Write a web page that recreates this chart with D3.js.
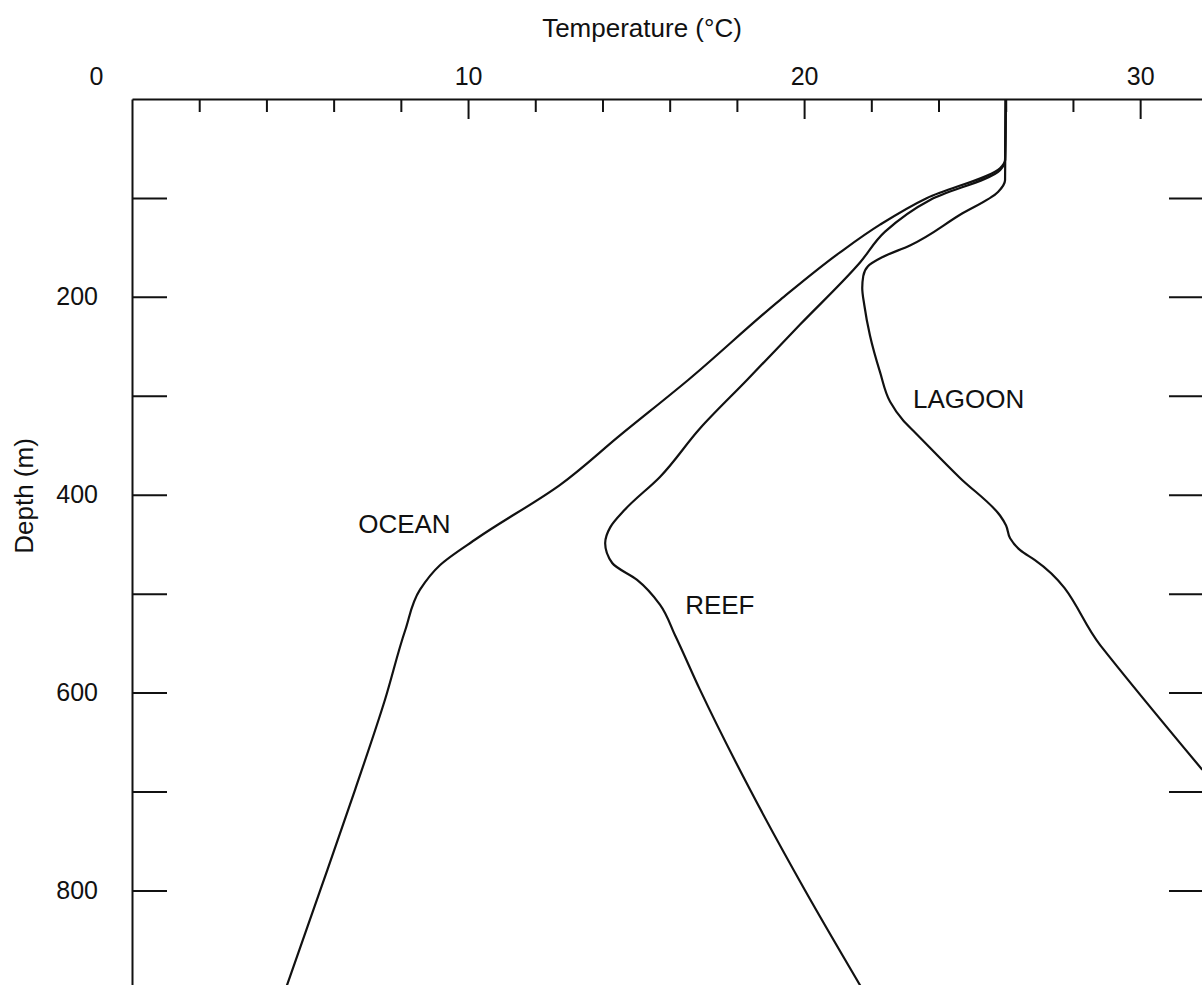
<!DOCTYPE html>
<html>
<head>
<meta charset="utf-8">
<script src="https://cdn.jsdelivr.net/npm/d3@7"></script>
<style>
  html, body { margin: 0; padding: 0; background: #fff; }
  svg { display: block; }
  text { font-family: "Liberation Sans", Arial, Helvetica, sans-serif; fill: #111; }
</style>
</head>
<body>
<svg id="chart" width="1202" height="985"></svg>
<script>
// Temperature profiles (°C) against depth (m)
const oceanDepth = [0, 62, 70, 100, 127, 155, 203, 284, 340, 390, 444, 471, 496, 537, 607, 698, 800, 896];
const oceanTemp  = [26.0, 25.98, 25.83, 23.66, 22.26, 21.07, 19.29, 16.55, 14.52, 12.74, 10.27, 9.17, 8.57, 8.13, 7.53, 6.64, 5.6, 4.61];

const reefDepth = [0, 62, 72, 102, 134, 165, 228, 284, 333, 382, 415, 433, 449, 469, 486, 511, 542, 597, 698, 800, 896];
const reefTemp  = [26.0, 25.98, 25.83, 23.75, 22.41, 21.67, 19.88, 18.3, 16.9, 15.71, 14.67, 14.23, 14.08, 14.29, 15.03, 15.71, 16.16, 16.9, 18.39, 20.03, 21.67];

const lagoonDepth = [0, 82, 94, 117, 148, 160, 169, 179, 191, 208, 239, 276, 306, 325, 337, 383, 421, 431, 444, 456, 466, 552, 678];
const lagoonTemp  = [26.0, 25.98, 25.77, 24.64, 23.15, 22.32, 21.9, 21.76, 21.73, 21.79, 21.96, 22.26, 22.56, 22.95, 23.3, 24.64, 25.83, 26.01, 26.13, 26.43, 26.87, 28.81, 31.85];

const majorTempTicks = [0, 10, 20, 30];
const minorTempTicks = [2, 4, 6, 8, 12, 14, 16, 18, 22, 24, 26, 28];
const depthTicks = [100, 200, 300, 400, 500, 600, 700, 800];
const depthLabels = [200, 400, 600, 800];

const seriesLabels = [
  { name: "OCEAN",  temp: 6.73, depth: 439 },
  { name: "REEF",   temp: 16.46, depth: 521 },
  { name: "LAGOON", temp: 23.24, depth: 312 }
];

const svg = d3.select("#chart");
svg.append("rect").attr("width", 1202).attr("height", 985).attr("fill", "#fff");

const x = d3.scaleLinear().domain([0, 31.9]).range([132, 1204]);
const y = d3.scaleLinear().domain([0, 900]).range([99, 989.4]);

const axisStyle = g => {
  g.selectAll("path.domain").attr("stroke", "#111").attr("stroke-width", 2);
  g.selectAll(".tick line").attr("stroke", "#111").attr("stroke-width", 2);
  g.selectAll(".tick text").attr("font-size", 25).attr("fill", "#111")
    .attr("font-family", "'Liberation Sans', Arial, Helvetica, sans-serif");
};

// top temperature axis: minor ticks, then labelled major ticks
svg.append("g")
  .attr("transform", `translate(0,${y(0)})`)
  .call(d3.axisTop(x).tickValues(minorTempTicks).tickSizeInner(-13).tickSizeOuter(0).tickFormat(""))
  .call(axisStyle);

const topMajor = svg.append("g")
  .attr("transform", `translate(0,${y(0)})`)
  .call(d3.axisTop(x).tickValues(majorTempTicks).tickSizeInner(-20).tickSizeOuter(0).tickPadding(14))
  .call(axisStyle);
topMajor.select("path.domain").remove();
topMajor.selectAll(".tick").filter(d => d === 0).select("text").attr("dx", -36);
topMajor.selectAll(".tick").filter(d => d === 0).select("line").remove();

// left depth axis
svg.append("g")
  .attr("transform", `translate(${x(0)},0)`)
  .call(d3.axisLeft(y).tickValues(depthTicks).tickSizeInner(-35).tickSizeOuter(0).tickPadding(34)
    .tickFormat(d => depthLabels.includes(d) ? d : ""))
  .call(axisStyle);

// right depth axis
svg.append("g")
  .attr("transform", `translate(${x.range()[1]},0)`)
  .call(d3.axisRight(y).tickValues(depthTicks).tickSizeInner(-35).tickSizeOuter(0).tickFormat(""))
  .call(axisStyle);

// axis titles
svg.append("text")
  .attr("x", 642).attr("y", 37)
  .attr("text-anchor", "middle").attr("font-size", 26)
  .text("Temperature (°C)");

svg.append("text")
  .attr("transform", "translate(33,496) rotate(-90)")
  .attr("text-anchor", "middle").attr("font-size", 26)
  .text("Depth (m)");

// profiles
const line = d3.line()
  .x(d => x(d[1]))
  .y(d => y(d[0]))
  .curve(d3.curveMonotoneY);

const profiles = [
  d3.zip(oceanDepth, oceanTemp),
  d3.zip(reefDepth, reefTemp),
  d3.zip(lagoonDepth, lagoonTemp)
];

svg.append("g")
  .selectAll("path")
  .data(profiles)
  .join("path")
  .attr("d", line)
  .attr("fill", "none")
  .attr("stroke", "#111")
  .attr("stroke-width", 2.2)
  .attr("stroke-linejoin", "round");

svg.append("g")
  .selectAll("text")
  .data(seriesLabels)
  .join("text")
  .attr("x", d => x(d.temp))
  .attr("y", d => y(d.depth))
  .attr("font-size", 26)
  .text(d => d.name);
</script>
</body>
</html>
